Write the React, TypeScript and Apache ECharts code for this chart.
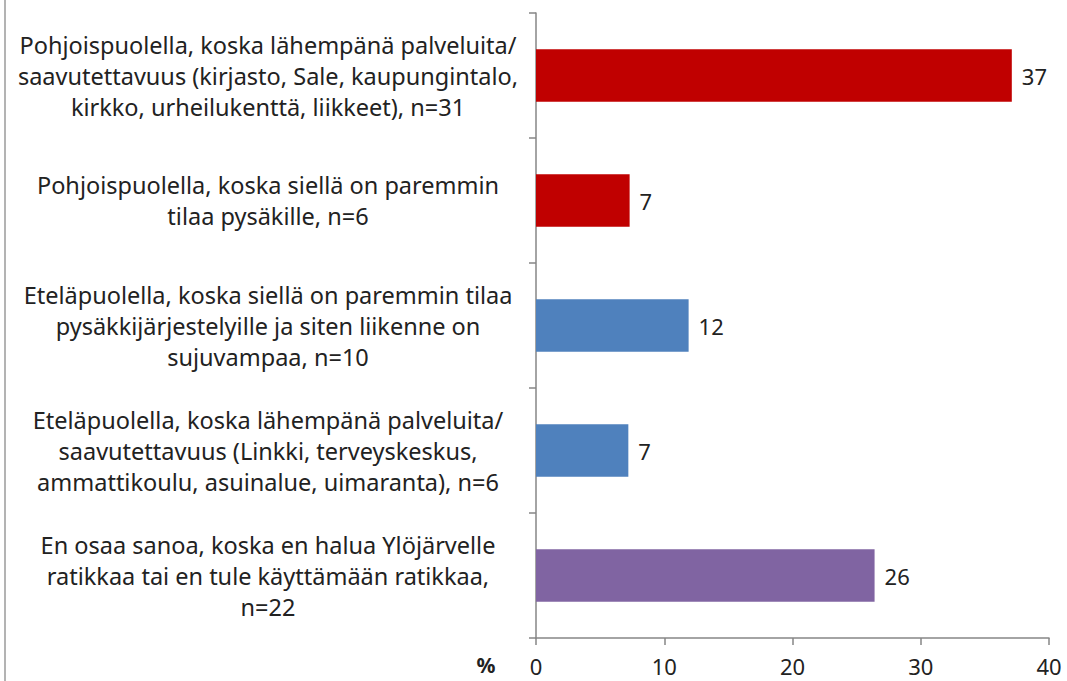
import React, { useEffect, useRef } from "react";
import * as echarts from "echarts";

const categories = [
  "Pohjoispuolella, koska lähempänä palveluita/\nsaavutettavuus (kirjasto, Sale, kaupungintalo,\nkirkko, urheilukenttä, liikkeet), n=31",
  "Pohjoispuolella, koska siellä on paremmin\ntilaa pysäkille, n=6",
  "Eteläpuolella, koska siellä on paremmin tilaa\npysäkkijärjestelyille ja siten liikenne on\nsujuvampaa, n=10",
  "Eteläpuolella, koska lähempänä palveluita/\nsaavutettavuus (Linkki, terveyskeskus,\nammattikoulu, asuinalue, uimaranta), n=6",
  "En osaa sanoa, koska en halua Ylöjärvelle\nratikkaa tai en tule käyttämään ratikkaa,\nn=22",
];
const values = [37.1, 7.3, 11.9, 7.2, 26.4];
const barColors = ["#C00000", "#C00000", "#4F81BD", "#4F81BD", "#8064A2"];
const xTicks = [0, 10, 20, 30, 40];

export default function App() {
  const ref = useRef<HTMLDivElement>(null);
  useEffect(() => {
    if (!ref.current) return;
    const chart = echarts.init(ref.current, null, { renderer: "svg" });
    const font = "'Noto Sans', sans-serif";
    chart.setOption({
      animation: false,
      backgroundColor: "#fff",
      grid: { left: 536, right: 18, top: 13, bottom: 43, containLabel: false },
      xAxis: {
        type: "value",
        min: xTicks[0],
        max: xTicks[xTicks.length - 1],
        interval: 10,
        splitLine: { show: false },
        axisLine: { show: true, lineStyle: { color: "#868686", width: 1.5 } },
        axisTick: { show: true, length: 7, lineStyle: { color: "#868686", width: 1.5 } },
        axisLabel: { margin: 17, fontSize: 22, color: "#222", fontFamily: font },
      },
      yAxis: {
        type: "category",
        inverse: true,
        data: categories,
        axisLine: { show: true, lineStyle: { color: "#868686", width: 1.5 } },
        axisTick: { show: true, length: 7, alignWithLabel: false, lineStyle: { color: "#868686", width: 1.5 } },
        axisLabel: {
          margin: 268,
          align: "center",
          fontSize: 23.5,
          lineHeight: 31,
          padding: [5, 0, 0, 0],
          color: "#222",
          fontFamily: font,
        },
      },
      series: [
        {
          type: "bar",
          data: values.map((v, i) => ({ value: v, itemStyle: { color: barColors[i] } })),
          barCategoryGap: "58%",
          label: {
            show: true,
            position: "right",
            distance: 10,
            fontSize: 22,
            color: "#222",
            fontFamily: font,
            formatter: (p: any) => String(Math.round(p.value)),
          },
        },
      ],
      graphic: [
        {
          type: "line",
          shape: { x1: 5, y1: 0, x2: 5, y2: 681 },
          style: { stroke: "#9a9a9a", lineWidth: 1.5 },
        },
        {
          type: "text",
          x: 486,
          y: 665,
          style: {
            text: "%",
            fontSize: 21,
            fontWeight: "bold",
            fill: "#222",
            fontFamily: font,
            textAlign: "center",
            textVerticalAlign: "middle",
          },
        },
      ],
    });
    return () => chart.dispose();
  }, []);
  return (
    <div
      ref={ref}
      style={{ position: "fixed", left: 0, top: 0, width: 1067, height: 681 }}
    />
  );
}
